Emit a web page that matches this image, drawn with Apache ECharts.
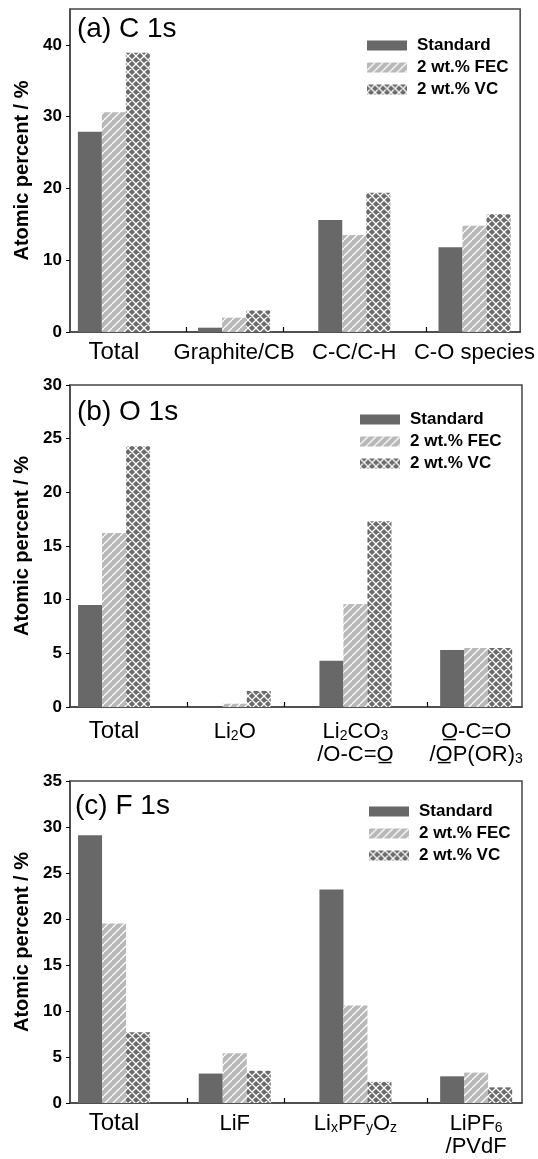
<!DOCTYPE html>
<html><head><meta charset="utf-8">
<script src="https://cdn.jsdelivr.net/npm/echarts@6/dist/echarts.min.js"></script>
<style>html,body{margin:0;padding:0;background:#fff}#c{width:538px;height:1159px}</style>
</head><body><div id="c"></div>
<script>
const SERIES_NAMES = ['Standard', '2 wt.% FEC', '2 wt.% VC'];

const C_CATS = ['{b|Total}', 'Graphite/CB', 'C-C/C-H', 'C-O species'];
const C_STD = [27.9, 0.6, 15.6, 11.8];
const C_FEC = [30.6, 2.0, 13.5, 14.8];
const C_VC  = [38.9, 3.0, 19.4, 16.4];

const O_CATS = ['{b|Total}', 'Li{s|2}O', 'Li{s|2}CO{s|3}\n/O-C=O\u0332', 'O\u0332-C=O\n/O\u0332P(OR){s|3}'];
const O_STD = [9.5, 0, 4.3, 5.3];
const O_FEC = [16.2, 0.3, 9.6, 5.5];
const O_VC  = [24.3, 1.5, 17.3, 5.5];

const F_CATS = ['{b|Total}', 'LiF', 'Li{s|x}PF{s|y}O{s|z}', 'LiPF{s|6}\n/PVdF'];
const F_STD = [29.1, 3.2, 23.2, 2.9];
const F_FEC = [19.5, 5.4, 10.6, 3.3];
const F_VC  = [7.7, 3.5, 2.3, 1.7];

const Y_TICKS_A = [0, 10, 20, 30, 40];
const Y_TICKS_B = [0, 5, 10, 15, 20, 25, 30];
const Y_TICKS_C = [0, 5, 10, 15, 20, 25, 30, 35];
const TITLES = ['(a) C 1s', '(b) O 1s', '(c) F 1s'];

function pattern(bg, cross) {
  const n = 8;
  const c = document.createElement('canvas');
  c.width = n; c.height = n;
  const g = c.getContext('2d');
  g.fillStyle = bg; g.fillRect(0, 0, n, n);
  g.strokeStyle = '#ffffff'; g.lineWidth = 1.3;
  g.beginPath();
  for (let k = -1; k <= 1; k++) {
    g.moveTo(k * n, n); g.lineTo(k * n + n, 0);
    if (cross) { g.moveTo(k * n, 0); g.lineTo(k * n + n, n); }
  }
  g.stroke();
  return { image: c, repeat: 'repeat' };
}
const COLORS = ['#686868', pattern('#b8b8b8', false), pattern('#6a6a6a', true)];

const FONT = '"Liberation Sans", Arial, "DejaVu Sans", sans-serif';
const AX = '#454545';

const panels = [
  { cats: C_CATS, vals: [C_STD, C_FEC, C_VC], max: 45, ticks: Y_TICKS_A, top: 9, h: 323,
    title: [72, 10], legend: [362, 32], margin: 9 },
  { cats: O_CATS, vals: [O_STD, O_FEC, O_VC], max: 30, ticks: Y_TICKS_B, top: 385, h: 322,
    title: [72, 393], legend: [355, 406], margin: 13 },
  { cats: F_CATS, vals: [F_STD, F_FEC, F_VC], max: 35, ticks: Y_TICKS_C, top: 781, h: 322,
    title: [70, 787], legend: [364, 798], margin: 9 }
];

const option = {
  animation: false,
  backgroundColor: '#ffffff',
  textStyle: { fontFamily: FONT },
  title: [], legend: [], grid: [], xAxis: [], yAxis: [], series: []
};

panels.forEach((p, i) => {
  option.title.push({
    text: TITLES[i], left: p.title[0], top: p.title[1],
    textStyle: { fontFamily: FONT, fontSize: 28, fontWeight: 'normal', color: '#000' }
  });
  option.legend.push({
    data: SERIES_NAMES, orient: 'vertical', left: p.legend[0], top: p.legend[1],
    itemWidth: 40, itemHeight: 10, itemGap: 5, icon: 'rect',
    selectedMode: false,
    textStyle: { fontFamily: FONT, fontSize: 17, fontWeight: 'bold', color: '#000', padding: [0, 0, 0, 5] }
  });
  option.grid.push({
    left: 70, right: 16, top: p.top, height: p.h,
    show: true, borderColor: AX, borderWidth: 1.5, backgroundColor: 'transparent'
  });
  option.xAxis.push({
    type: 'value', gridIndex: i, min: 0.635, max: 4.38,
    splitLine: { show: false },
    axisLine: { show: true, onZero: false, lineStyle: { color: AX, width: 1.5 } },
    axisTick: { show: true, inside: true, length: 5, customValues: [1.604, 2.41, 3.597],
      lineStyle: { color: '#000', width: 1.2 } },
    axisLabel: {
      customValues: [1, 2, 3, 4], margin: p.margin, color: '#000',
      fontFamily: FONT, fontSize: 22, lineHeight: 23, align: 'center',
      formatter: v => p.cats[Math.round(v) - 1] || '',
      rich: {
        s: { fontFamily: FONT, fontSize: 14, verticalAlign: 'bottom', lineHeight: 14, color: '#000' },
        b: { fontFamily: FONT, fontSize: 24, fontWeight: 'normal', lineHeight: 23, color: '#000' }
      }
    }
  });
  option.yAxis.push({
    type: 'value', gridIndex: i, min: 0, max: p.max,
    name: 'Atomic percent / %', nameLocation: 'middle', nameGap: 38,
    nameTextStyle: { fontFamily: FONT, fontSize: 20, fontWeight: 'bold', color: '#000' },
    splitLine: { show: false },
    axisLine: { show: true, lineStyle: { color: AX, width: 1.5 } },
    axisTick: { show: true, length: 4, customValues: p.ticks, lineStyle: { color: '#000' } },
    axisLabel: { customValues: p.ticks, margin: 8, color: '#000', fontFamily: FONT, fontSize: 17, fontWeight: 'bold' }
  });
  p.vals.forEach((arr, k) => {
    option.series.push({
      type: 'bar', name: SERIES_NAMES[k], xAxisIndex: i, yAxisIndex: i,
      barWidth: 24, barGap: '0%',
      itemStyle: { color: COLORS[k] },
      data: arr.map((v, j) => [j + 1, v])
    });
  });
});

const chart = echarts.init(document.getElementById('c'), null, { renderer: 'canvas' });
chart.setOption(option);
</script>
</body></html>
